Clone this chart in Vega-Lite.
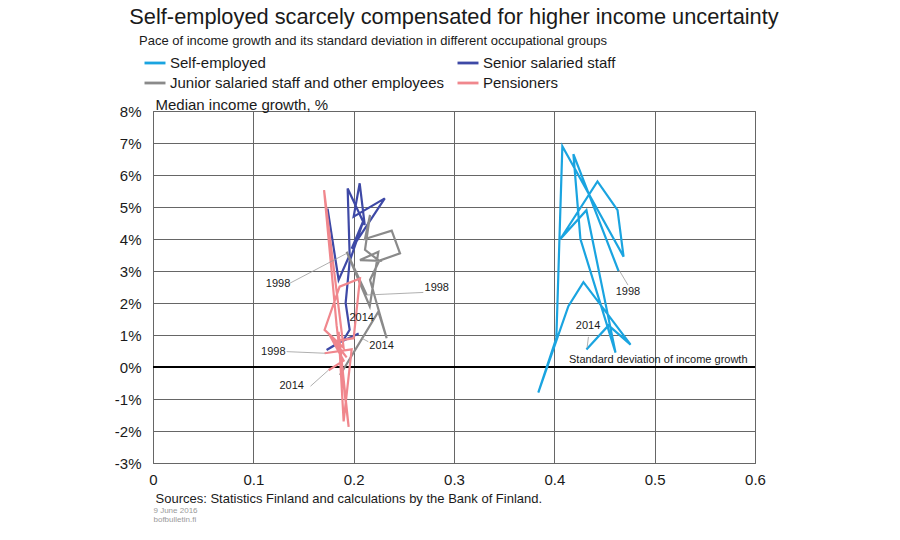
{
  "$schema": "https://vega.github.io/schema/vega-lite/v6.json",
  "width": 602,
  "height": 352,
  "autosize": {"type": "none"},
  "padding": {"left": 153, "top": 111, "right": 145, "bottom": 77},
  "background": "white",
  "config": {
    "font": "Liberation Sans",
    "view": {"stroke": "#555555", "strokeWidth": 1},
    "legend": {
      "orient": "none",
      "legendX": -14,
      "legendY": -76,
      "columns": 2,
      "columnPadding": 6,
      "rowPadding": 0,
      "symbolType": "stroke",
      "symbolSize": 440,
      "symbolStrokeWidth": 2.8,
      "symbolOffset": 4,
      "labelOffset": 3,
      "labelFontSize": 15,
      "labelColor": "#1a1a1a",
      "labelLimit": 500,
      "titleFontSize": 13,
      "titleFontWeight": "normal",
      "titleColor": "#1a1a1a",
      "titleLimit": 700,
      "titlePadding": 3
    }
  },
  "title": {
    "text": "Self-employed scarcely compensated for higher income uncertainty",
    "fontSize": 21.8,
    "fontWeight": "normal",
    "color": "#1a1a1a",
    "anchor": "middle",
    "frame": "group",
    "offset": 6
  },
  "datasets": {
    "series": [
      {"group": "Self-employed", "year": 1998, "sd": 0.464, "growth": 3.0},
      {"group": "Self-employed", "year": 1999, "sd": 0.419, "growth": 6.65},
      {"group": "Self-employed", "year": 2000, "sd": 0.426, "growth": 4.0},
      {"group": "Self-employed", "year": 2001, "sd": 0.461, "growth": 0.45},
      {"group": "Self-employed", "year": 2002, "sd": 0.432, "growth": 4.9},
      {"group": "Self-employed", "year": 2003, "sd": 0.406, "growth": 4.0},
      {"group": "Self-employed", "year": 2004, "sd": 0.443, "growth": 5.8},
      {"group": "Self-employed", "year": 2005, "sd": 0.463, "growth": 4.9},
      {"group": "Self-employed", "year": 2006, "sd": 0.469, "growth": 3.45},
      {"group": "Self-employed", "year": 2007, "sd": 0.408, "growth": 6.9},
      {"group": "Self-employed", "year": 2008, "sd": 0.402, "growth": 0.9},
      {"group": "Self-employed", "year": 2009, "sd": 0.384, "growth": -0.8},
      {"group": "Self-employed", "year": 2010, "sd": 0.414, "growth": 1.9},
      {"group": "Self-employed", "year": 2011, "sd": 0.429, "growth": 2.65},
      {"group": "Self-employed", "year": 2012, "sd": 0.476, "growth": 0.7},
      {"group": "Self-employed", "year": 2013, "sd": 0.454, "growth": 1.3},
      {"group": "Self-employed", "year": 2014, "sd": 0.432, "growth": 0.55},
      {"group": "Senior salaried staff", "year": 1998, "sd": 0.174, "growth": 4.95},
      {"group": "Senior salaried staff", "year": 1999, "sd": 0.185, "growth": 2.72},
      {"group": "Senior salaried staff", "year": 2000, "sd": 0.196, "growth": 3.5},
      {"group": "Senior salaried staff", "year": 2001, "sd": 0.194, "growth": 5.58},
      {"group": "Senior salaried staff", "year": 2002, "sd": 0.211, "growth": 4.44},
      {"group": "Senior salaried staff", "year": 2003, "sd": 0.206, "growth": 5.74},
      {"group": "Senior salaried staff", "year": 2004, "sd": 0.2, "growth": 4.7},
      {"group": "Senior salaried staff", "year": 2005, "sd": 0.231, "growth": 5.27},
      {"group": "Senior salaried staff", "year": 2006, "sd": 0.198, "growth": 3.7},
      {"group": "Senior salaried staff", "year": 2007, "sd": 0.21, "growth": 4.6},
      {"group": "Senior salaried staff", "year": 2008, "sd": 0.196, "growth": 3.3},
      {"group": "Senior salaried staff", "year": 2009, "sd": 0.192, "growth": 2.0},
      {"group": "Senior salaried staff", "year": 2010, "sd": 0.196, "growth": 1.16},
      {"group": "Senior salaried staff", "year": 2011, "sd": 0.19, "growth": 0.85},
      {"group": "Senior salaried staff", "year": 2012, "sd": 0.173, "growth": 0.53},
      {"group": "Senior salaried staff", "year": 2013, "sd": 0.188, "growth": 0.8},
      {"group": "Senior salaried staff", "year": 2014, "sd": 0.205, "growth": 1.05},
      {"group": "Junior salaried staff and other employees", "year": 1998, "sd": 0.213, "growth": 2.25},
      {"group": "Junior salaried staff and other employees", "year": 1999, "sd": 0.193, "growth": 3.6},
      {"group": "Junior salaried staff and other employees", "year": 2000, "sd": 0.216, "growth": 1.9},
      {"group": "Junior salaried staff and other employees", "year": 2001, "sd": 0.2246, "growth": 3.6},
      {"group": "Junior salaried staff and other employees", "year": 2002, "sd": 0.2063, "growth": 3.34},
      {"group": "Junior salaried staff and other employees", "year": 2003, "sd": 0.2255, "growth": 3.32},
      {"group": "Junior salaried staff and other employees", "year": 2004, "sd": 0.2113, "growth": 3.66},
      {"group": "Junior salaried staff and other employees", "year": 2005, "sd": 0.2163, "growth": 4.75},
      {"group": "Junior salaried staff and other employees", "year": 2006, "sd": 0.2113, "growth": 4.0},
      {"group": "Junior salaried staff and other employees", "year": 2007, "sd": 0.2379, "growth": 4.26},
      {"group": "Junior salaried staff and other employees", "year": 2008, "sd": 0.2462, "growth": 3.55},
      {"group": "Junior salaried staff and other employees", "year": 2009, "sd": 0.2255, "growth": 3.32},
      {"group": "Junior salaried staff and other employees", "year": 2010, "sd": 0.2163, "growth": 2.72},
      {"group": "Junior salaried staff and other employees", "year": 2011, "sd": 0.2329, "growth": 0.9},
      {"group": "Junior salaried staff and other employees", "year": 2012, "sd": 0.2246, "growth": 1.73},
      {"group": "Junior salaried staff and other employees", "year": 2013, "sd": 0.1864, "growth": -0.25},
      {"group": "Junior salaried staff and other employees", "year": 2014, "sd": 0.2085, "growth": 0.9},
      {"group": "Pensioners", "year": 1998, "sd": 0.171, "growth": 0.43},
      {"group": "Pensioners", "year": 1999, "sd": 0.198, "growth": 0.55},
      {"group": "Pensioners", "year": 2000, "sd": 0.19, "growth": -1.7},
      {"group": "Pensioners", "year": 2001, "sd": 0.185, "growth": 1.1},
      {"group": "Pensioners", "year": 2002, "sd": 0.195, "growth": -1.87},
      {"group": "Pensioners", "year": 2003, "sd": 0.183, "growth": 1.3},
      {"group": "Pensioners", "year": 2004, "sd": 0.1705, "growth": 5.53},
      {"group": "Pensioners", "year": 2005, "sd": 0.19, "growth": 0.6},
      {"group": "Pensioners", "year": 2006, "sd": 0.171, "growth": 1.16},
      {"group": "Pensioners", "year": 2007, "sd": 0.186, "growth": 2.51},
      {"group": "Pensioners", "year": 2008, "sd": 0.2063, "growth": 2.77},
      {"group": "Pensioners", "year": 2009, "sd": 0.2, "growth": 0.9},
      {"group": "Pensioners", "year": 2010, "sd": 0.18, "growth": 0.8},
      {"group": "Pensioners", "year": 2011, "sd": 0.193, "growth": 0.3},
      {"group": "Pensioners", "year": 2012, "sd": 0.176, "growth": 1.0},
      {"group": "Pensioners", "year": 2013, "sd": 0.19, "growth": 0.2},
      {"group": "Pensioners", "year": 2014, "sd": 0.175, "growth": -0.1}
    ],
    "labels": [
      {"text": "1998", "sd": 0.4734, "growth": 2.34},
      {"text": "2014", "sd": 0.4336, "growth": 1.28},
      {"text": "1998", "sd": 0.1246, "growth": 2.6},
      {"text": "1998", "sd": 0.2828, "growth": 2.46},
      {"text": "1998", "sd": 0.1199, "growth": 0.48},
      {"text": "2014", "sd": 0.208, "growth": 1.52},
      {"text": "2014", "sd": 0.2278, "growth": 0.66},
      {"text": "2014", "sd": 0.1382, "growth": -0.59}
    ],
    "note": [
      {"text": "Standard deviation of income growth", "sd": 0.4146, "growth": 0.22}
    ],
    "leaders": [
      {"sd": 0.4734, "growth": 2.56, "sd2": 0.4645, "growth2": 3.03},
      {"sd": 0.434, "growth": 0.94, "sd2": 0.4326, "growth2": 0.59},
      {"sd": 0.1365, "growth": 2.62, "sd2": 0.193, "growth2": 3.55},
      {"sd": 0.2694, "growth": 2.33, "sd2": 0.213, "growth2": 2.25},
      {"sd": 0.1332, "growth": 0.48, "sd2": 0.1714, "growth2": 0.43},
      {"sd": 0.2146, "growth": 0.79, "sd2": 0.208, "growth2": 0.9},
      {"sd": 0.157, "growth": -0.6, "sd2": 0.1748, "growth2": -0.1}
    ],
    "zero": [
      {"growth": 0}
    ]
  },
  "layer": [
    {
      "data": {"name": "zero"},
      "mark": {"type": "rule", "color": "black", "strokeWidth": 2},
      "encoding": {
        "y": {"field": "growth", "type": "quantitative"}
      }
    },
    {
      "data": {"name": "series"},
      "mark": {"type": "line", "strokeWidth": 2.2},
      "encoding": {
        "x": {
          "field": "sd", "type": "quantitative",
          "scale": {"domain": [0, 0.6], "nice": false, "zero": false},
          "axis": {
            "values": [0, 0.1, 0.2, 0.3, 0.4, 0.5, 0.6],
            "tickCount": 20,
            "format": "~g",
            "labelFlush": false,
            "grid": true, "gridColor": "#666666", "gridWidth": 1,
            "domain": false, "ticks": false,
            "labelFontSize": 15, "labelColor": "#1a1a1a", "labelPadding": 9,
            "title": "Sources: Statistics Finland and calculations by the Bank of Finland.",
            "titleFontSize": 13, "titleFontWeight": "normal", "titleColor": "#1a1a1a",
            "titleX": 2, "titleY": 39, "titleAlign": "left", "titleBaseline": "alphabetic",
            "orient": "bottom"
          }
        },
        "y": {
          "field": "growth", "type": "quantitative",
          "scale": {"domain": [-3, 8], "nice": false, "zero": false},
          "axis": {
            "values": [-3, -2, -1, 0, 1, 2, 3, 4, 5, 6, 7, 8],
            "tickCount": 20,
            "labelOverlap": false,
            "labelFlush": false,
            "labelExpr": "datum.value + '%'",
            "grid": true, "gridColor": "#666666", "gridWidth": 1,
            "domain": false, "ticks": false,
            "labelFontSize": 15, "labelColor": "#1a1a1a", "labelPadding": 12,
            "title": "Median income growth, %",
            "titleFontSize": 15, "titleFontWeight": "normal", "titleColor": "#1a1a1a",
            "titleAngle": 0, "titleX": 2, "titleY": -2, "titleAlign": "left", "titleBaseline": "alphabetic"
          }
        },
        "color": {
          "field": "group", "type": "nominal",
          "scale": {
            "domain": ["Self-employed", "Junior salaried staff and other employees", "Senior salaried staff", "Pensioners"],
            "range": ["#1AA4E0", "#8A8A8A", "#3E49A6", "#F0878D"]
          },
          "legend": {"title": "Pace of income growth and its standard deviation in different occupational groups"}
        },
        "order": {"field": "year", "type": "quantitative"}
      }
    },
    {
      "data": {"name": "leaders"},
      "mark": {"type": "rule", "color": "#9a9a9a", "strokeWidth": 0.8},
      "encoding": {
        "x": {
          "field": "sd", "type": "quantitative",
          "axis": {
            "orient": "bottom", "labels": false, "ticks": false, "domain": false, "grid": false,
            "title": ["9 June 2016", "bofbulletin.fi"],
            "titleFontSize": 8, "titleFontWeight": "normal", "titleColor": "#9a9a9a",
            "titleX": 0, "titleY": 49, "titleAlign": "left", "titleBaseline": "alphabetic", "titleLineHeight": 9
          }
        },
        "y": {"field": "growth", "type": "quantitative"},
        "x2": {"field": "sd2"},
        "y2": {"field": "growth2"}
      }
    },
    {
      "data": {"name": "labels"},
      "mark": {"type": "text", "fontSize": 11, "color": "#1a1a1a", "align": "center", "baseline": "middle"},
      "encoding": {
        "x": {"field": "sd", "type": "quantitative", "axis": null},
        "y": {"field": "growth", "type": "quantitative"},
        "text": {"field": "text"}
      }
    },
    {
      "data": {"name": "note"},
      "mark": {"type": "text", "fontSize": 11, "color": "#1a1a1a", "align": "left", "baseline": "middle"},
      "encoding": {
        "x": {"field": "sd", "type": "quantitative", "axis": null},
        "y": {"field": "growth", "type": "quantitative"},
        "text": {"field": "text"}
      }
    }
  ],
  "resolve": {"axis": {"x": "independent"}}
}
